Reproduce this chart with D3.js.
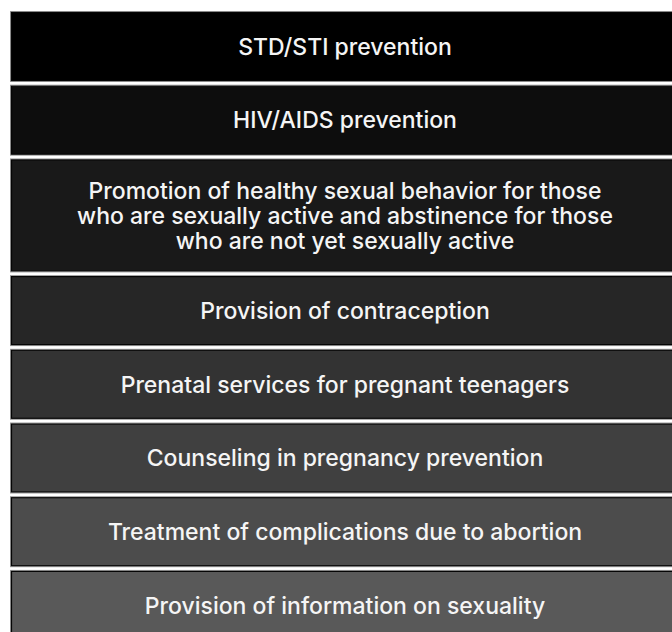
<!DOCTYPE html>
<html>
<head>
<meta charset="utf-8">
<script src="https://cdn.jsdelivr.net/npm/d3@7"></script>
<style>
  html, body { margin: 0; padding: 0; background: #ffffff; overflow: hidden; }
  svg { display: block; }
</style>
</head>
<body>
<svg id="chart" width="672" height="632"></svg>
<script>
// Items (top to bottom); "\n" marks a line break inside a box
const categories = [
  "STD/STI prevention",
  "HIV/AIDS prevention",
  "Promotion of healthy sexual behavior for those\nwho are sexually active and abstinence for those\nwho are not yet sexually active",
  "Provision of contraception",
  "Prenatal services for pregnant teenagers",
  "Counseling in pregnancy prevention",
  "Treatment of complications due to abortion",
  "Provision of information on sexuality"
];
// Rank order (0 = top) used for the shading ramp
const ranks = [0, 1, 2, 3, 4, 5, 6, 7];

const W = 672, H = 632;
const svg = d3.select("#chart");

const items = categories.map((c, i) => ({ label: c, lines: c.split("\n"), rank: ranks[i] }));

// height of a box from its number of text lines
const hScale = d3.scaleLinear().domain([1, 3]).range([69, 112]);
const gap = 4.7;
const top0 = 12;
let acc = top0;
items.forEach(d => { d.h = hScale(d.lines.length); d.y = acc; acc += d.h + gap; });

const x = d3.scaleLinear().domain([0, 1]).range([11, 679]);
const textX = 345;

const color = d3.scaleLinear().domain([0, ranks.length - 1])
  .range(["#000000", "#595959"]).interpolate(d3.interpolateRgb);

const fontFamily = "Inter, 'Liberation Sans', Arial, sans-serif";
const fontWeight = 500;

// auto-fit font size to the reference line width
const probe = svg.append("text").attr("font-family", fontFamily).attr("font-weight", fontWeight)
  .attr("font-size", 100).text("who are sexually active and abstinence for those");
const probeW = probe.node().getComputedTextLength();
probe.remove();
const fontSize = Math.min(24, 100 * 536 / probeW);
const lineH = 25;

const g = svg.selectAll("g.box").data(items).join("g").attr("class", "box");

// light outer edge
g.append("rect")
  .attr("x", x(0) - 0.5).attr("y", d => d.y - 0.5)
  .attr("width", x(1) - x(0) + 1).attr("height", d => d.h + 1)
  .attr("fill", "none").attr("stroke", "#9a9a9a").attr("stroke-width", 1);

g.append("rect")
  .attr("x", x(0) + 0.5).attr("y", d => d.y + 0.5)
  .attr("width", x(1) - x(0) - 1).attr("height", d => d.h - 1)
  .attr("fill", d => color(d.rank))
  .attr("stroke", "#050505").attr("stroke-width", 1.2);

g.each(function(d) {
  const cy = d.y + d.h / 2;
  const n = d.lines.length;
  const t = d3.select(this).append("text")
    .attr("text-anchor", "middle")
    .attr("font-family", fontFamily)
    .attr("font-weight", fontWeight)
    .attr("font-size", fontSize)
    .attr("fill", "#f5f5f5");
  t.selectAll("tspan").data(d.lines).join("tspan")
    .attr("x", textX)
    .attr("y", (l, i) => cy + fontSize * 0.36 + (i - (n - 1) / 2) * lineH)
    .text(l => l);
});
</script>
</body>
</html>
